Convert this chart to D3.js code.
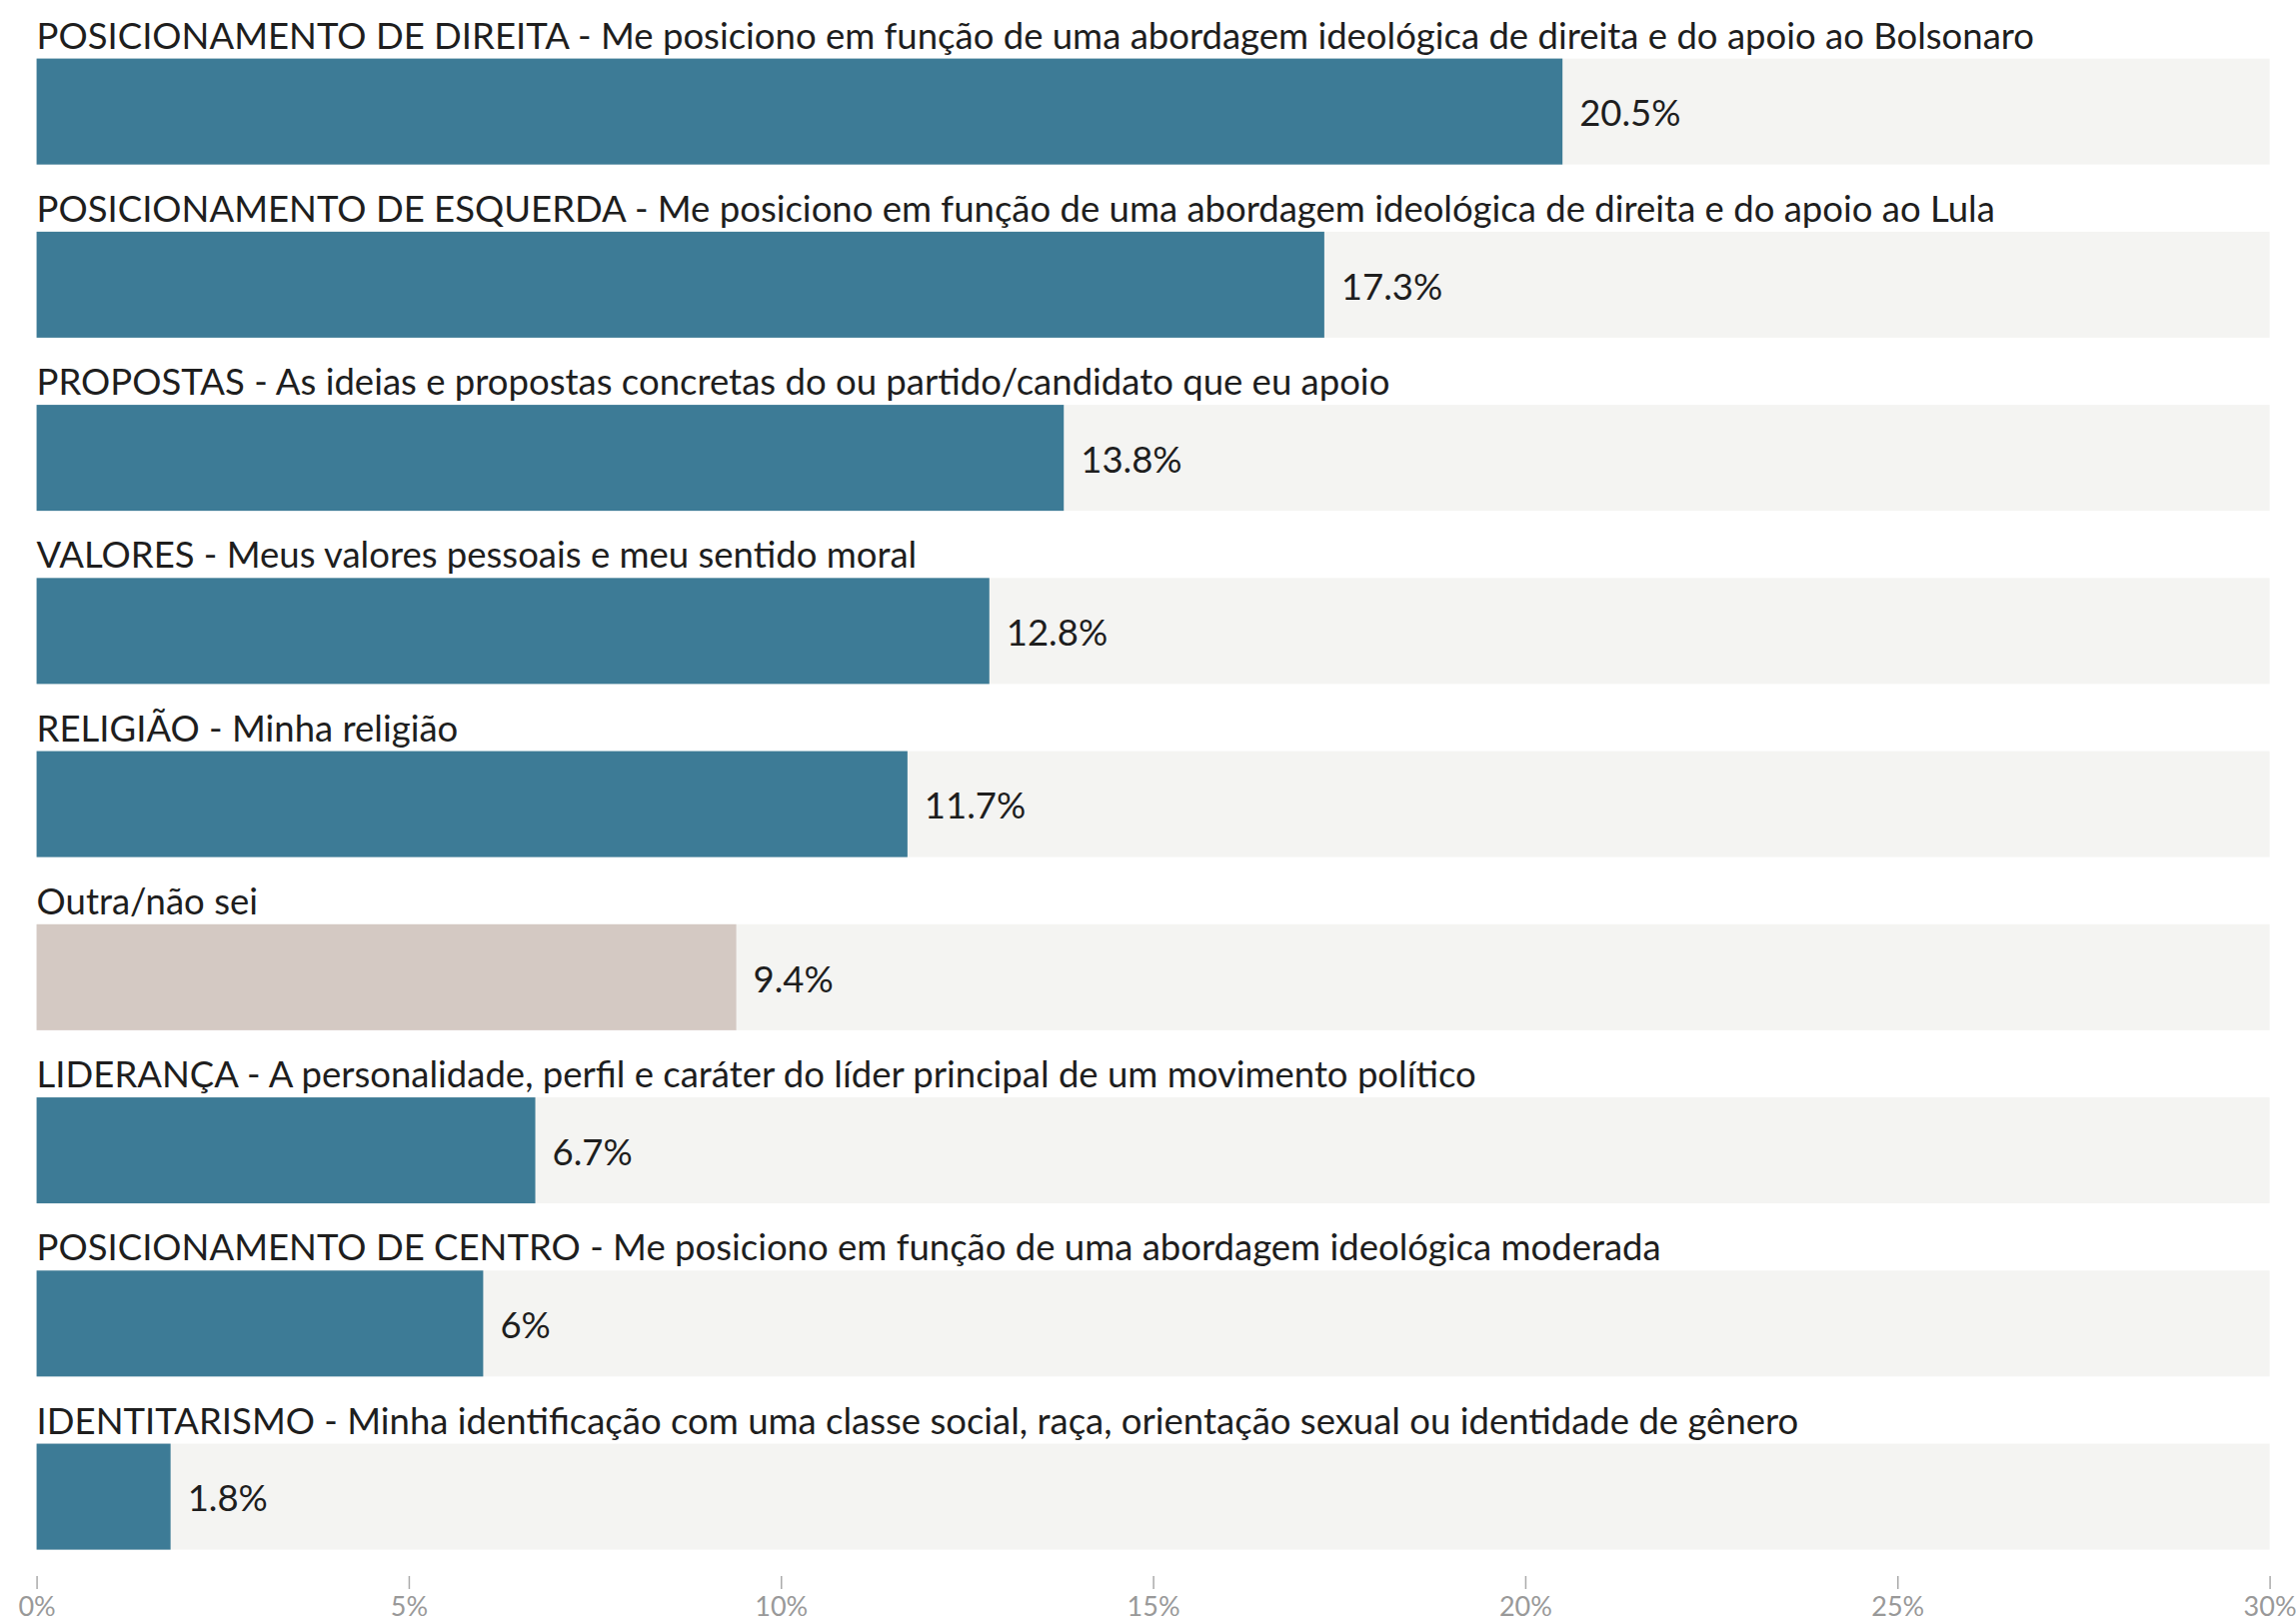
<!DOCTYPE html>
<html><head><meta charset="utf-8">
<script src="https://cdn.jsdelivr.net/npm/d3@7"></script>
<style>
html,body{margin:0;padding:0;background:#fff;}
svg{display:block;font-family:Lato, "Open Sans", sans-serif;}
</style></head>
<body>
<svg id="chart" width="2297" height="1623"></svg>
<script>
const categories = [
  "POSICIONAMENTO DE DIREITA - Me posiciono em função de uma abordagem ideológica de direita e do apoio ao Bolsonaro",
  "POSICIONAMENTO DE ESQUERDA - Me posiciono em função de uma abordagem ideológica de direita e do apoio ao Lula",
  "PROPOSTAS - As ideias e propostas concretas do ou partido/candidato que eu apoio",
  "VALORES - Meus valores pessoais e meu sentido moral",
  "RELIGIÃO - Minha religião",
  "Outra/não sei",
  "LIDERANÇA - A personalidade, perfil e caráter do líder principal de um movimento político",
  "POSICIONAMENTO DE CENTRO - Me posiciono em função de uma abordagem ideológica moderada",
  "IDENTITARISMO - Minha identificação com uma classe social, raça, orientação sexual ou identidade de gênero"
];
const values = [20.5, 17.3, 13.8, 12.8, 11.7, 9.4, 6.7, 6, 1.8];
const valueLabels = ["20.5%", "17.3%", "13.8%", "12.8%", "11.7%", "9.4%", "6.7%", "6%", "1.8%"];
const highlightOther = ["Outra/não sei"];
const tickValues = [0, 5, 10, 15, 20, 25, 30];
const tickLabels = ["0%", "5%", "10%", "15%", "20%", "25%", "30%"];
const xMax = 30;

const svg = d3.select("#chart");
const x = d3.scaleLinear().domain([0, xMax]).range([36.6, 2270.6]);
const y = d3.scaleBand().domain(categories).range([58.6, 1550.6]).paddingInner(0.388).paddingOuter(0);

const rows = svg.append("g").selectAll("g").data(categories).join("g");

rows.append("rect")
  .attr("x", x(0)).attr("y", d => y(d))
  .attr("width", x(xMax) - x(0)).attr("height", y.bandwidth())
  .attr("fill", "#f4f4f2");

rows.append("rect")
  .attr("x", x(0)).attr("y", d => y(d))
  .attr("width", (d, i) => x(values[i]) - x(0)).attr("height", y.bandwidth())
  .attr("fill", d => highlightOther.includes(d) ? "#d4c9c3" : "#3d7b96");

rows.append("text")
  .attr("x", x(0)).attr("y", d => y(d) - 10)
  .attr("font-size", 36.5).attr("fill", "#1e1e1e")
  .text(d => d);

rows.append("text")
  .attr("x", (d, i) => x(values[i]) + 17)
  .attr("y", d => y(d) + y.bandwidth() / 2 + 2)
  .attr("dy", "0.35em")
  .attr("font-size", 36.5).attr("fill", "#1e1e1e")
  .text((d, i) => valueLabels[i]);

const axis = d3.axisBottom(x).tickValues(tickValues).tickSize(13).tickPadding(8)
  .tickFormat((d, i) => tickLabels[i]);
const ax = svg.append("g").attr("transform", "translate(0,1577)").call(axis);
ax.select(".domain").remove();
ax.selectAll(".tick line").attr("stroke", "#aaa").attr("stroke-width", 1.5);
ax.selectAll(".tick text").attr("fill", "#999").attr("font-size", 27).attr("font-family", "Lato, sans-serif");
</script>
</body></html>
